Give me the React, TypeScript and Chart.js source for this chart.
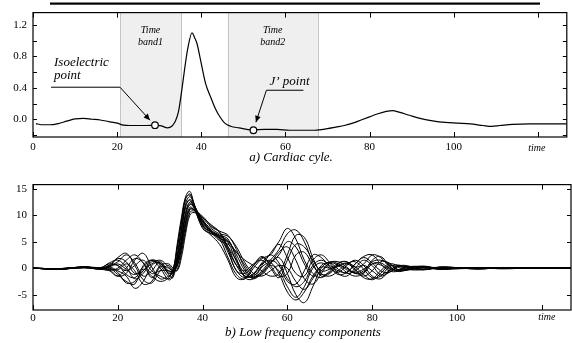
import React, { useEffect, useRef } from "react";
import { Chart, registerables } from "chart.js";
Chart.register(...registerables);

// ---------- Panel a) cardiac cycle ----------
const ecgTime = [
  0.7, 2, 4, 6, 8, 10, 12, 14, 16, 18,
  20, 21.5, 23, 25, 27, 29, 30.5, 32, 33, 33.8,
  34.6, 35.4, 36.1, 36.8, 37.8, 38.4, 39, 39.8, 41, 42.4,
  43.4, 44.2, 45.6, 47, 49, 52, 55, 58, 61, 64,
  67, 70, 72, 74, 76, 78, 80, 82, 84, 85.5,
  87, 89.5, 92, 95, 98, 101, 104, 107, 109, 111,
  114, 118, 122, 126.9,
];
const ecgValue = [
  -0.055, -0.07, -0.07, -0.055, -0.025, 0.005, 0.01, 0.0, -0.01, -0.03,
  -0.05, -0.075, -0.08, -0.08, -0.08, -0.076, -0.085, -0.11, -0.09, -0.03,
  0.1, 0.38, 0.66, 0.9, 1.1, 1.04, 0.96, 0.76, 0.46, 0.26,
  0.13, 0.05, -0.05, -0.09, -0.11, -0.135, -0.13, -0.13, -0.14, -0.14,
  -0.14, -0.12, -0.1, -0.08, -0.05, -0.01, 0.03, 0.07, 0.1, 0.11,
  0.09, 0.05, 0.01, -0.02, -0.04, -0.05, -0.06, -0.08, -0.09, -0.08,
  -0.065, -0.06, -0.06, -0.06,
];
const markerTime = [29.0, 52.4];
const markerValue = [-0.076, -0.14];
const bandStart = [20.7, 46.3];
const bandEnd = [35.2, 67.7];
const bandNames = ["band1", "band2"];
const topYLabels = [0, 0.4, 0.8, 1.2];
const topYMarks = [-0.2, 0, 0.2, 0.4, 0.6, 0.8, 1.0, 1.2];
const xTickValues = [0, 20, 40, 60, 80, 100, 120];

// ---------- Panel b) low frequency components ----------
const lfTime = [
  0, 6, 12, 16, 18, 20, 22, 24, 26, 28,
  30, 32, 33, 34, 35, 36, 37, 38, 40, 42,
  44, 46, 48, 50, 52, 54, 56, 58, 60, 62,
  64, 66, 68, 70, 72, 74, 76, 78, 80, 82,
  84, 86, 88, 92, 96, 100, 105, 110, 118, 126.9,
];
const lf1 = [0, -0.1, 0.2, -0.2, 0.3, 1.8, 1.2, -1.0, -0.5, 1.5,
  0.5, -1.5, -0.5, 4.5, 9.5, 13.5, 14.5, 12.0, 7.5, 6.5,
  5.8, 3.0, -0.5, -1.8, -1.0, 1.0, 2.5, 1.0, -2.0, -3.5,
  -2.5, 0.5, 1.5, 0.5, -0.5, -0.8, 0.8, 2.0, 1.0, -0.5,
  -0.8, 0.3, 0.5, -0.3, 0.2, 0.1, -0.2, 0.1, 0, 0];
const lf2 = [0, -0.2, 0.1, -0.1, 0.4, 1.2, 2.5, 1.0, -1.5, -0.5,
  1.2, -0.8, -1.0, 3.5, 8.5, 13.0, 14.0, 12.2, 8.0, 6.8,
  5.5, 2.0, -1.2, -2.0, 0.5, 2.2, 0.5, -1.5, -1.0, 2.5,
  3.0, 0.5, -1.2, -0.8, 0.8, 1.2, -0.5, -1.5, -0.5, 1.2,
  1.0, -0.3, -0.4, 0.2, -0.2, 0, 0.1, -0.1, 0, 0];
const lf3 = [0, -0.1, 0.2, 0, 0, -1.2, -2.5, -3.0, 0.5, 1.5,
  0, -2.2, -1.5, 2.5, 7.5, 12.2, 13.5, 12.0, 8.2, 6.5,
  6.0, 4.0, 1.5, -1.0, -1.8, -0.5, 1.5, 3.5, 6.5, 7.2,
  5.0, 1.0, -1.5, -1.0, 0.5, 0.8, -0.2, -1.8, -2.0, -0.5,
  0.8, 0.5, -0.2, -0.3, 0.2, 0.1, -0.1, 0, 0, 0];
const lf4 = [0, -0.2, 0.1, -0.2, 0.2, -0.5, -1.5, -3.8, -2.5, 0.5,
  1.0, -1.2, -1.8, 1.8, 6.5, 11.5, 13.0, 11.5, 8.5, 6.8,
  5.2, 4.5, 3.0, 0.5, -1.5, -1.2, 0.8, 3.0, 4.0, 1.5,
  -2.0, -3.0, -1.0, 1.0, 1.2, 0.2, -1.0, -0.8, 1.5, 2.2,
  0.5, -0.6, -0.4, 0.3, -0.1, -0.1, 0.1, 0, 0, 0];
const lf5 = [0, -0.1, 0.2, -0.1, -0.3, -1.5, -1.0, 1.5, 2.8, 0.2,
  -2.0, -1.5, -0.8, 1.2, 5.5, 10.5, 12.5, 11.8, 9.0, 7.0,
  6.0, 5.2, 2.5, -0.5, -2.0, -0.8, 1.0, 2.0, -1.0, -5.0,
  -6.5, -3.5, 0.0, 1.2, 0.8, -0.3, -0.8, -0.2, 0.8, 0.6,
  -0.2, -0.5, 0.2, 0.3, -0.2, 0, 0.1, -0.1, 0, 0];
const lf6 = [0, -0.2, 0.2, 0.1, 1.0, 1.5, 0.2, -2.0, -1.0, 1.2,
  0.8, -0.5, -0.5, 0.8, 4.8, 9.8, 12.0, 11.5, 9.2, 7.2,
  6.2, 4.8, 1.2, -1.5, -1.5, 0.5, 2.8, 5.0, 7.5, 5.5,
  1.5, -1.0, -1.8, -0.5, 1.0, 1.2, 0.2, 0.8, 2.5, 2.0,
  0.3, -0.5, -0.2, 0.4, -0.2, -0.1, 0.1, 0, 0, 0];
const lf7 = [0, -0.1, 0.1, 0, 0.5, 0.5, -1.2, -1.8, -0.2, -1.5,
  -2.5, -1.8, -0.2, 1.5, 4.5, 9.0, 11.5, 11.0, 9.0, 7.5,
  6.5, 6.0, 4.0, 1.0, -1.0, -1.5, -0.5, 0.5, 0.0, -2.5,
  -4.0, -2.0, 0.5, 1.0, -0.2, -1.0, -0.5, 0.5, -0.5, -1.5,
  -0.8, 0.3, 0.3, -0.2, 0.1, 0, -0.1, 0.1, 0, 0];
const lf8 = [0, -0.2, 0.2, -0.2, -0.4, 0.0, 1.5, 2.5, 1.0, -1.0,
  -0.5, -0.5, -0.8, 0.3, 3.5, 8.0, 11.0, 11.0, 9.5, 7.8,
  6.8, 4.0, 0.5, -1.5, -1.2, 0.8, 1.5, 0.5, -2.5, -3.0,
  -0.5, 2.5, 2.0, 0.2, -1.2, -0.8, 0.8, 2.2, 2.5, 0.8,
  -0.5, -0.6, 0.1, 0.3, -0.1, 0, 0.1, 0, 0, 0];
const lf9 = [0, -0.1, 0.1, -0.1, 0.6, 2.0, 2.8, 0.5, -2.2, -2.8,
  -0.5, 0.5, -0.5, -0.3, 2.8, 7.2, 10.5, 10.8, 9.8, 8.0,
  7.0, 6.2, 3.5, 0.0, -1.8, -1.0, 0.5, -0.5, -3.5, -5.5,
  -3.5, 0.0, 1.0, 0.0, -0.8, 0.5, 1.5, 0.5, -1.5, -2.0,
  -0.5, 0.4, 0.2, -0.3, 0.1, 0.1, -0.1, 0, 0, 0];
const lf10 = [0, -0.2, 0.2, 0, -0.5, -1.5, 0.0, 1.8, 1.0, -1.8,
  0.5, 0.8, 0.0, -0.5, 2.0, 6.5, 10.0, 10.5, 9.5, 8.2,
  6.8, 3.5, -0.5, -1.0, 0.5, 2.0, 1.2, 2.5, 5.0, 4.0,
  0.8, -1.5, -0.5, 1.0, 0.5, -0.8, -1.5, -1.0, 0.8, 1.0,
  0.0, -0.3, 0.2, 0.1, -0.2, 0.1, 0, 0, 0, 0];
const lf11 = [0, -0.1, 0.2, 0.1, 0.8, 0.5, -0.5, 0.5, 1.5, -0.5,
  -1.5, -2.0, -1.2, 2.0, 7.0, 11.8, 12.8, 11.2, 7.8, 6.2,
  4.5, 1.5, -1.8, -2.0, 0.0, 1.8, 2.5, 4.5, 2.0, -1.0,
  -1.5, 1.5, 2.5, 1.0, -1.0, -1.5, 0.0, 1.5, 0.5, -1.2,
  -0.5, 0.5, 0.3, -0.2, 0.1, 0, 0, 0, 0, 0];
const lf12 = [0, -0.2, 0.1, -0.1, 0.0, -0.8, -2.8, -2.5, -0.5, 0.8,
  1.5, 0.2, -0.5, 0.5, 3.8, 8.5, 11.2, 11.0, 8.8, 7.0,
  6.2, 5.5, 1.8, -1.8, -2.0, 0.2, 1.0, -1.0, -4.5, -6.0,
  -4.5, -1.5, 0.2, 0.0, 0.3, 1.0, 0.2, -1.2, -2.2, -1.0,
  0.5, 0.2, -0.3, 0.1, 0.1, -0.1, 0, 0, 0, 0];
const lf13 = [0, -0.1, 0.2, 0, 0.2, 0.8, -0.2, -1.2, 0.2, 1.5,
  1.0, -1.0, -0.2, 3.8, 8.8, 13.2, 13.8, 12.0, 8.2, 6.8,
  5.8, 3.5, 0.5, -0.5, 0.8, 1.5, 0.0, -1.8, 1.5, 4.5,
  4.0, 1.5, -0.5, -0.2, 0.5, 0.0, -1.0, -0.5, 1.2, 1.5,
  0.8, -0.2, -0.3, 0.2, -0.1, 0, 0.1, 0, 0, 0];
const lf14 = [0, -0.2, 0.1, -0.1, -0.2, -0.3, 0.8, -0.5, -3.0, -2.5,
  0.2, 0.0, -0.6, 1.0, 5.2, 10.2, 12.2, 11.5, 8.8, 6.8,
  5.6, 5.0, 3.0, 1.5, 0.5, -0.5, -1.5, -1.0, 2.5, 6.2,
  5.8, 2.0, -1.0, -1.5, -0.5, 0.8, 1.2, -0.2, -1.8, -1.5,
  0.2, 0.6, 0.0, -0.2, 0.2, 0, -0.1, 0, 0, 0];
const lfSeries = [lf1, lf2, lf3, lf4, lf5, lf6, lf7, lf8, lf9, lf10, lf11, lf12, lf13, lf14];
const bottomYLabels = [-5, 0, 5, 10, 15];

const SERIF = "'Liberation Serif', 'DejaVu Serif', serif";

function framePlugin(yMarks: number[]) {
  return {
    id: "frame",
    afterDraw(chart: any) {
      const { ctx, chartArea: a, scales } = chart;
      const xs = scales.x;
      const ys = scales.y;
      ctx.save();
      ctx.strokeStyle = "#000";
      ctx.lineWidth = 1.2;
      ctx.strokeRect(a.left, a.top, a.right - a.left, a.bottom - a.top);
      ctx.lineWidth = 1;
      ctx.beginPath();
      for (const v of xTickValues) {
        const px = Math.round(xs.getPixelForValue(v)) + 0.5;
        ctx.moveTo(px, a.bottom);
        ctx.lineTo(px, a.bottom - 5);
        ctx.moveTo(px, a.top);
        ctx.lineTo(px, a.top + 5);
      }
      for (const v of yMarks) {
        const py = Math.round(ys.getPixelForValue(v)) + 0.5;
        ctx.moveTo(a.left, py);
        ctx.lineTo(a.left + 4, py);
        ctx.moveTo(a.right, py);
        ctx.lineTo(a.right - 4, py);
      }
      ctx.stroke();
      ctx.restore();
    },
  };
}

function textPlugin(caption: string, capX: number, capY: number, timeDx: number, timeY: number, extra?: (chart: any) => void) {
  return {
    id: "texts",
    afterDraw(chart: any) {
      const { ctx } = chart;
      const xs = chart.scales.x;
      ctx.save();
      ctx.fillStyle = "#000";
      ctx.textAlign = "center";
      ctx.textBaseline = "alphabetic";
      ctx.font = `italic 13px ${SERIF}`;
      ctx.fillText(caption, capX, capY);
      ctx.font = `italic 10px ${SERIF}`;
      ctx.fillText("time", xs.getPixelForValue(120) + timeDx, timeY);
      ctx.restore();
      if (extra) extra(chart);
    },
  };
}

function arrowHead(ctx: CanvasRenderingContext2D, fx: number, fy: number, tx: number, ty: number) {
  const ang = Math.atan2(ty - fy, tx - fx);
  const len = 7;
  const w = 0.42;
  ctx.beginPath();
  ctx.moveTo(tx, ty);
  ctx.lineTo(tx - len * Math.cos(ang - w), ty - len * Math.sin(ang - w));
  ctx.lineTo(tx - len * Math.cos(ang + w), ty - len * Math.sin(ang + w));
  ctx.closePath();
  ctx.fill();
}

const bandPlugin = {
  id: "bands",
  beforeDatasetsDraw(chart: any) {
    const { ctx, chartArea: a } = chart;
    const xs = chart.scales.x;
    ctx.save();
    for (let i = 0; i < bandStart.length; i++) {
      const x0 = xs.getPixelForValue(bandStart[i]);
      const x1 = xs.getPixelForValue(bandEnd[i]);
      ctx.fillStyle = "#efefef";
      ctx.fillRect(x0, a.top, x1 - x0, a.bottom - a.top);
      ctx.strokeStyle = "#c4c4c4";
      ctx.lineWidth = 1;
      ctx.beginPath();
      ctx.moveTo(Math.round(x0) + 0.5, a.top);
      ctx.lineTo(Math.round(x0) + 0.5, a.bottom);
      ctx.moveTo(Math.round(x1) + 0.5, a.top);
      ctx.lineTo(Math.round(x1) + 0.5, a.bottom);
      ctx.stroke();
      ctx.fillStyle = "#000";
      ctx.font = `italic 10px ${SERIF}`;
      ctx.textAlign = "center";
      const cx = (x0 + x1) / 2;
      ctx.fillText("Time", cx, a.top + 20);
      ctx.fillText(bandNames[i], cx, a.top + 32);
    }
    ctx.restore();
  },
};

function drawAnnotations(chart: any) {
  const { ctx } = chart;
  const xs = chart.scales.x;
  const ys = chart.scales.y;
  const iso = { x: xs.getPixelForValue(markerTime[0]), y: ys.getPixelForValue(markerValue[0]) };
  const jp = { x: xs.getPixelForValue(markerTime[1]), y: ys.getPixelForValue(markerValue[1]) };
  ctx.save();
  ctx.strokeStyle = "#000";
  ctx.fillStyle = "#000";
  ctx.lineWidth = 1;
  // Isoelectric point
  const isoTip = { x: iso.x - 5, y: iso.y - 5 };
  const isoElbow = { x: iso.x - 35, y: iso.y - 38 };
  ctx.beginPath();
  ctx.moveTo(iso.x - 104, isoElbow.y);
  ctx.lineTo(isoElbow.x, isoElbow.y);
  ctx.lineTo(isoTip.x, isoTip.y);
  ctx.stroke();
  arrowHead(ctx, isoElbow.x, isoElbow.y, isoTip.x, isoTip.y);
  // J' point
  const jTip = { x: jp.x + 2.5, y: jp.y - 8 };
  const jElbow = { x: jp.x + 13, y: jp.y - 40 };
  ctx.beginPath();
  ctx.moveTo(jp.x + 50, jElbow.y);
  ctx.lineTo(jElbow.x, jElbow.y);
  ctx.lineTo(jTip.x, jTip.y);
  ctx.stroke();
  arrowHead(ctx, jElbow.x, jElbow.y, jTip.x, jTip.y);
  ctx.font = `italic 13px ${SERIF}`;
  ctx.textAlign = "left";
  ctx.fillText("Isoelectric", iso.x - 101, iso.y - 59);
  ctx.fillText("point", iso.x - 101, iso.y - 46);
  ctx.fillText("J\u2019 point", jp.x + 16, jp.y - 45);
  ctx.restore();
}

function baseScales(yMin: number, yMax: number, yLabels: number[], fmt: (v: number) => string, xHeight: number, xPad: number) {
  return {
    x: {
      type: "linear" as const,
      min: 0,
      max: 126.9,
      grid: { display: false, drawTicks: false },
      border: { display: false },
      afterBuildTicks(scale: any) {
        scale.ticks = xTickValues.map((v) => ({ value: v }));
      },
      afterFit(scale: any) {
        scale.height = xHeight;
      },
      ticks: {
        color: "#000",
        padding: xPad,
        maxRotation: 0,
        autoSkip: false,
        font: { family: SERIF, size: 11 },
        callback: (v: any) => (v === 120 ? "" : String(v)),
      },
    },
    y: {
      type: "linear" as const,
      min: yMin,
      max: yMax,
      grid: { display: false, drawTicks: false },
      border: { display: false },
      afterBuildTicks(scale: any) {
        scale.ticks = yLabels.map((v) => ({ value: v }));
      },
      afterFit(scale: any) {
        scale.width = 33;
      },
      ticks: {
        color: "#000",
        padding: 6,
        autoSkip: false,
        font: { family: SERIF, size: 11 },
        callback: (v: any) => fmt(Number(v)),
      },
    },
  };
}

export default function App() {
  const topRef = useRef<HTMLCanvasElement>(null);
  const botRef = useRef<HTMLCanvasElement>(null);

  useEffect(() => {
    const top = new Chart(topRef.current as HTMLCanvasElement, {
      type: "line",
      data: {
        datasets: [
          {
            data: markerTime.map((t, i) => ({ x: t, y: markerValue[i] })),
            showLine: false,
            pointRadius: 3.3,
            pointBackgroundColor: "#fff",
            pointBorderColor: "#000",
            pointBorderWidth: 1.2,
          },
          {
            data: ecgTime.map((t, i) => ({ x: t, y: ecgValue[i] })),
            borderColor: "#000",
            borderWidth: 1.2,
            pointRadius: 0,
            cubicInterpolationMode: "monotone",
            fill: false,
          },
        ],
      },
      options: {
        responsive: false,
        animation: false,
        layout: { padding: { top: 6, right: 1, left: 0, bottom: 0 } },
        plugins: { legend: { display: false }, tooltip: { enabled: false }, title: { display: false } },
        scales: baseScales(-0.226, 1.356, topYLabels, (v) => v.toFixed(1), 35, 4),
      },
      plugins: [
        bandPlugin,
        framePlugin(topYMarks),
        textPlugin("a) Cardiac cyle.", 291, 161, -1, 151, drawAnnotations),
        {
          id: "topRule",
          afterDraw(chart: any) {
            const ctx = chart.ctx;
            ctx.save();
            ctx.fillStyle = "#000";
            ctx.fillRect(50, 2.5, 490, 2.2);
            ctx.restore();
          },
        },
      ],
    } as any);

    const bot = new Chart(botRef.current as HTMLCanvasElement, {
      type: "line",
      data: {
        datasets: lfSeries.map((s) => ({
          data: lfTime.map((t, i) => ({ x: t, y: s[i] })),
          borderColor: "#000",
          borderWidth: 1,
          pointRadius: 0,
          tension: 0.4,
          fill: false,
        })),
      },
      options: {
        responsive: false,
        animation: false,
        layout: { padding: { top: 6, right: 1, left: 0, bottom: 0 } },
        plugins: { legend: { display: false }, tooltip: { enabled: false }, title: { display: false } },
        scales: baseScales(-7.9, 15.77, bottomYLabels, (v) => String(v), 33, 2),
      },
      plugins: [framePlugin(bottomYLabels), textPlugin("b) Low frequency components", 303, 164, 5, 148)],
    } as any);

    return () => {
      top.destroy();
      bot.destroy();
    };
  }, []);

  return (
    <div style={{ position: "absolute", left: 0, top: 0, width: 572, height: 343, background: "#fff" }}>
      <canvas ref={topRef} width={572} height={172} style={{ position: "absolute", left: 0, top: 0, display: "block" }} />
      <canvas ref={botRef} width={572} height={171} style={{ position: "absolute", left: 0, top: 172, display: "block" }} />
    </div>
  );
}
